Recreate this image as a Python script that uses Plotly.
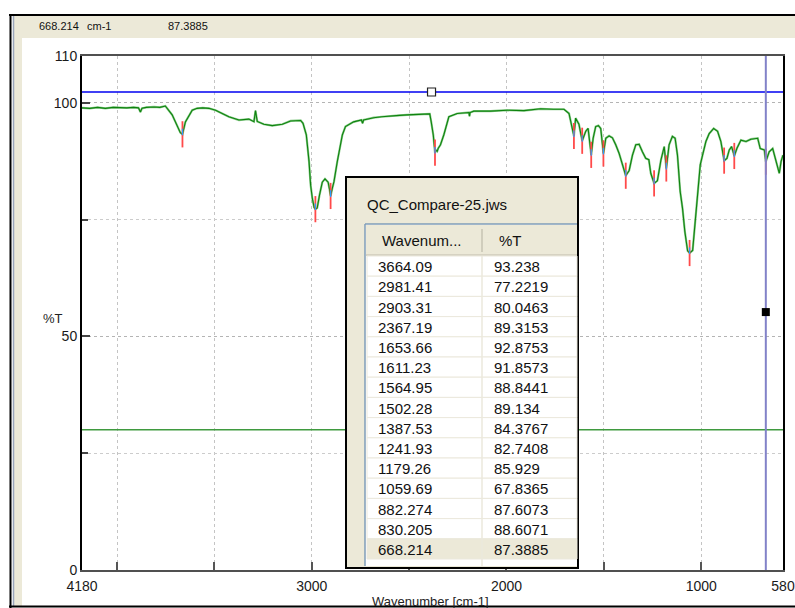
import plotly.graph_objects as go

# IR spectrum trace (wavenumber in cm-1, transmittance in %T)
wavenumber = [4180, 4140, 4100, 4060, 4020, 3985, 3950, 3915, 3890, 3880, 3872, 3850, 3810, 3780,
              3752, 3717, 3691, 3675, 3664.09, 3649, 3614, 3589, 3560, 3528, 3494, 3460, 3426, 3374,
              3323, 3297, 3289, 3280, 3246, 3203, 3151, 3109, 3057, 3045, 3028, 3014, 3006, 2997,
              2988, 2981.41, 2972, 2960, 2946, 2932, 2916, 2909, 2903.31, 2895, 2886, 2869, 2853,
              2843, 2827, 2785, 2745, 2739, 2734, 2682, 2640, 2596, 2550, 2510, 2450, 2394, 2387,
              2376, 2367.19, 2362, 2356, 2351, 2339, 2322, 2296, 2253, 2193, 2190, 2187, 2168, 2082,
              1996, 1910, 1825, 1760, 1705, 1679, 1667, 1653.66, 1645, 1637, 1628, 1611.23, 1600,
              1593, 1581, 1564.95, 1555, 1542, 1528, 1516, 1502.28, 1490, 1473, 1456, 1439, 1422,
              1404, 1387.53, 1370, 1353, 1336, 1319, 1302, 1285, 1269, 1259, 1241.93, 1225, 1207,
              1190, 1179.26, 1165, 1148, 1134, 1122, 1108, 1096, 1084, 1070, 1059.69, 1044, 1032,
              1019, 1005, 993, 976, 959, 936, 916, 899, 882.274, 868, 856, 844, 830.205, 817, 796,
              770, 745, 710, 697, 676, 668.214, 651, 633, 625, 611, 599, 590, 580]
transmittance = [98.9, 98.8, 99.0, 98.8, 99.0, 98.9, 98.9, 99.0, 98.9, 98.0, 98.8, 99.0, 99.1, 99.0,
                 99.3, 97.4, 94.9, 93.6, 93.238, 95.9, 98.4, 98.8, 98.9, 98.8, 98.4, 97.7, 97.0, 96.3,
                 96.5, 95.95, 98.3, 96.0, 95.4, 95.1, 95.4, 96.1, 96.2, 95.6, 93.1, 87.4, 82.4, 79.5,
                 77.6, 77.2219, 77.5, 80.3, 83.0, 83.7, 83.0, 81.5, 80.0463, 81.6, 83.1, 87.4, 91.0,
                 93.1, 94.9, 95.9, 96.3, 95.6, 96.3, 96.8, 97.0, 97.2, 97.3, 97.4, 97.5, 97.6, 96.0,
                 93.1, 89.3153, 89.8, 89.6, 90.2, 91.0, 93.1, 97.0, 97.7, 97.9, 97.1, 97.9, 98.2, 98.2,
                 98.4, 98.3, 98.7, 98.6, 98.6, 97.7, 95.2, 92.8753, 96.7, 96.2, 95.4, 91.8573, 93.4,
                 93.9, 94.5, 88.8441, 92.4, 94.9, 95.1, 94.5, 89.134, 92.4, 92.9, 92.5, 91.0, 89.2,
                 86.7, 84.3767, 85.5, 88.8, 91.0, 91.1, 89.5, 88.1, 87.8, 84.9, 82.7408, 83.3, 87.7,
                 90.6, 85.929, 91.0, 92.8, 92.4, 88.8, 81.0, 77.4, 72.4, 68.3, 67.8365, 68.4, 74.5,
                 81.0, 86.7, 88.8, 91.7, 93.4, 94.5, 93.9, 91.7, 87.6073, 88.1, 89.9, 90.6, 88.6071,
                 90.2, 92.0, 91.7, 92.2, 92.4, 90.2, 89.9, 87.3885, 89.5, 90.2, 88.8, 86.7, 84.9,
                 87.4, 88.8]

# Peak pick results
peak_wavenumber = [3664.09, 2981.41, 2903.31, 2367.19, 1653.66, 1611.23, 1564.95, 1502.28,
                   1387.53, 1241.93, 1179.26, 1059.69, 882.274, 830.205, 668.214]
peak_transmittance = [93.238, 77.2219, 80.0463, 89.3153, 92.8753, 91.8573, 88.8441, 89.134,
                      84.3767, 82.7408, 85.929, 67.8365, 87.6073, 88.6071, 87.3885]

# Cursor and threshold settings
cursor_wavenumber = 668.214
cursor_transmittance = 87.3885
cursor_handle_t = 55.2
upper_line_t = 102.3
upper_handle_wn = 2385
threshold_t = 30

x_ticks = [4180, 3000, 2000, 1000, 580]
y_ticks = [0, 50, 100, 110]
table_title = "QC_Compare-25.jws"
table_headers = ["Wavenum...", "%T"]

X_RANGE = [4180, 580]
Y_RANGE = [0, 110]

# Plot-area pixel frame, used to place window chrome in paper coordinates
PL, PR, PT, PB = 82, 783, 56, 570


def px(x):
    return (x - PL) / (PR - PL)


def py(y):
    return (PB - y) / (PB - PT)


BEIGE = "#ECE9D8"
FONT = "Liberation Sans, Arial, sans-serif"

fig = go.Figure()

# threshold line
fig.add_trace(go.Scatter(x=X_RANGE, y=[threshold_t, threshold_t], mode="lines",
                         line=dict(color="#3f9a3f", width=1.5), hoverinfo="skip"))
# upper horizontal cursor
fig.add_trace(go.Scatter(x=X_RANGE, y=[upper_line_t, upper_line_t], mode="lines",
                         line=dict(color="#0000f0", width=1.4), hoverinfo="skip"))

# spectrum: light halo with a darker core
fig.add_trace(go.Scatter(x=wavenumber, y=transmittance, mode="lines",
                         line=dict(color="#8ccc8c", width=2.2), hoverinfo="skip"))
fig.add_trace(go.Scatter(x=wavenumber, y=transmittance, mode="lines",
                         line=dict(color="#0f830f", width=1.1), hoverinfo="skip"))

# peak tick marks
mx, my, bx, by = [], [], [], []
for w, t in zip(peak_wavenumber, peak_transmittance):
    mx += [w, w, None]
    my += [t - 2.8, t + 2.8, None]
    bx += [w, w, None]
    by += [t - 0.2, t + 1.2, None]
fig.add_trace(go.Scatter(x=mx, y=my, mode="lines", line=dict(color="#ff4a4a", width=1.8),
                         hoverinfo="skip"))
fig.add_trace(go.Scatter(x=bx, y=by, mode="lines", line=dict(color="#2aa0ff", width=1.2),
                         hoverinfo="skip"))

# vertical cursor
fig.add_trace(go.Scatter(x=[cursor_wavenumber, cursor_wavenumber], y=Y_RANGE, mode="lines",
                         line=dict(color="#8282c8", width=2), hoverinfo="skip"))
# cursor handles
fig.add_trace(go.Scatter(x=[upper_handle_wn], y=[upper_line_t], mode="markers",
                         marker=dict(symbol="square", size=8, color="white",
                                     line=dict(color="#222", width=1.2)), hoverinfo="skip"))
fig.add_trace(go.Scatter(x=[cursor_wavenumber], y=[cursor_handle_t], mode="markers",
                         marker=dict(symbol="square", size=8, color="black"), hoverinfo="skip"))


def pshape(**kw):
    kw.setdefault("xref", "paper")
    kw.setdefault("yref", "paper")
    return kw


shapes = [
    # header band and left strip of the window
    pshape(type="rect", x0=px(14), x1=px(800), y0=py(38), y1=py(15),
           fillcolor=BEIGE, line=dict(width=0), layer="below"),
    pshape(type="rect", x0=px(14), x1=px(22), y0=py(607), y1=py(15),
           fillcolor=BEIGE, line=dict(width=0), layer="below"),
    pshape(type="line", x0=px(9), x1=px(800), y0=py(15), y1=py(15),
           line=dict(color="black", width=2)),
    pshape(type="line", x0=px(10.5), x1=px(10.5), y0=py(15), y1=py(608),
           line=dict(color="black", width=2)),
    pshape(type="line", x0=px(13.5), x1=px(13.5), y0=py(16), y1=py(606),
           line=dict(color="#9aa6bb", width=1.5)),
    pshape(type="line", x0=px(9), x1=px(800), y0=py(606.5), y1=py(606.5),
           line=dict(color="black", width=2)),
    # peak table window
    pshape(type="rect", x0=px(346), x1=px(578), y0=py(568), y1=py(177),
           fillcolor=BEIGE, line=dict(color="black", width=2), layer="above"),
    # list view background
    pshape(type="rect", x0=px(365), x1=px(577), y0=py(566), y1=py(224),
           fillcolor="white", line=dict(width=0), layer="above"),
]

annotations = []


def text(s, x, y, size, anchor="left", color="#111"):
    annotations.append(dict(text=s, x=px(x), y=py(y), xref="paper", yref="paper",
                            xanchor=anchor, yanchor="middle", showarrow=False,
                            font=dict(family=FONT, size=size, color=color)))


# list view layout
TBL_L, TBL_R, COL_SPLIT = 366, 577, 482
HDR_TOP, HDR_BOT = 225, 256
ROW_H = 20.2

shapes.append(pshape(type="rect", x0=px(TBL_L), x1=px(TBL_R), y0=py(HDR_BOT), y1=py(HDR_TOP),
                     fillcolor=BEIGE, line=dict(width=0), layer="above"))
shapes.append(pshape(type="line", x0=px(TBL_L), x1=px(TBL_R), y0=py(HDR_BOT - 1), y1=py(HDR_BOT - 1),
                     line=dict(color="#d6d2c2", width=2), layer="above"))
shapes.append(pshape(type="line", x0=px(COL_SPLIT), x1=px(COL_SPLIT), y0=py(HDR_TOP + 4),
                     y1=py(HDR_BOT - 4), line=dict(color="#c7c3b3", width=1.5), layer="above"))
text(table_headers[0], 380, (HDR_TOP + HDR_BOT) / 2, 15)
text(table_headers[1], 497, (HDR_TOP + HDR_BOT) / 2, 15)

n_rows = len(peak_wavenumber)
for i, (w, t) in enumerate(zip(peak_wavenumber, peak_transmittance)):
    top = HDR_BOT + i * ROW_H
    bot = top + ROW_H
    fill = BEIGE if i == n_rows - 1 else "white"
    shapes.append(pshape(type="rect", x0=px(TBL_L + 1), x1=px(TBL_R), y0=py(bot), y1=py(top),
                         fillcolor=fill, line=dict(color="#ebe8dc", width=1), layer="above"))
    text(str(w), 376, top + ROW_H / 2 + 0.5, 15)
    text(str(t), 492, top + ROW_H / 2 + 0.5, 15)

shapes.append(pshape(type="line", x0=px(COL_SPLIT), x1=px(COL_SPLIT), y0=py(566), y1=py(HDR_BOT),
                     line=dict(color="#ebe8dc", width=1.5), layer="above"))
# list view border
shapes.append(pshape(type="line", x0=px(365), x1=px(365), y0=py(224), y1=py(566),
                     line=dict(color="#7f9db9", width=1.5), layer="above"))
shapes.append(pshape(type="line", x0=px(365), x1=px(577), y0=py(224), y1=py(224),
                     line=dict(color="#7f9db9", width=1.5), layer="above"))

text(table_title, 365, 205, 15)

# status line and axis captions
text(f"{cursor_wavenumber}", 37, 26, 11)
text("cm-1", 85, 26, 11)
text(f"{cursor_transmittance}", 166, 26, 11)
text("%T", 53, 318, 13, anchor="center", color="#222")
text("Wavenumber [cm-1]", 430, 601, 13, anchor="center", color="#222")

tick_font = dict(family=FONT, size=14, color="#1a1a1a")

fig.update_layout(
    width=795, height=608,
    margin=dict(l=PL, r=795 - PR, t=PT, b=608 - PB, autoexpand=False),
    paper_bgcolor="white", plot_bgcolor="white",
    showlegend=False,
    font=dict(family=FONT, size=13, color="#222"),
    shapes=shapes,
    annotations=annotations,
    xaxis=dict(range=X_RANGE, tickvals=x_ticks, ticktext=[str(v) for v in x_ticks],
               tickfont=tick_font,
               ticks="inside", ticklen=8, tickcolor="#555", tickwidth=1.5,
               showgrid=True, gridcolor="#c4c4c4", griddash="dot", gridwidth=1,
               minor=dict(tick0=0, dtick=500, showgrid=True, gridcolor="#c4c4c4",
                          griddash="dot", ticks="inside", ticklen=8, tickcolor="#555"),
               showline=True, linecolor="#505050", linewidth=2, mirror=True, zeroline=False,
               ticklabelstandoff=2, automargin=False),
    yaxis=dict(range=Y_RANGE, tickvals=y_ticks, ticktext=[str(v) for v in y_ticks],
               tickfont=tick_font,
               ticks="inside", ticklen=8, tickcolor="#444", tickwidth=1.5,
               showgrid=True, gridcolor="#b4b4b4", griddash="dot", gridwidth=1,
               minor=dict(tick0=0, dtick=25, showgrid=True, gridcolor="#cccccc",
                          griddash="dot", ticks="inside", ticklen=6, tickcolor="#444"),
               showline=True, linecolor="black", linewidth=2, mirror=True, zeroline=False,
               automargin=False),
)

fig.write_html("out.html")
